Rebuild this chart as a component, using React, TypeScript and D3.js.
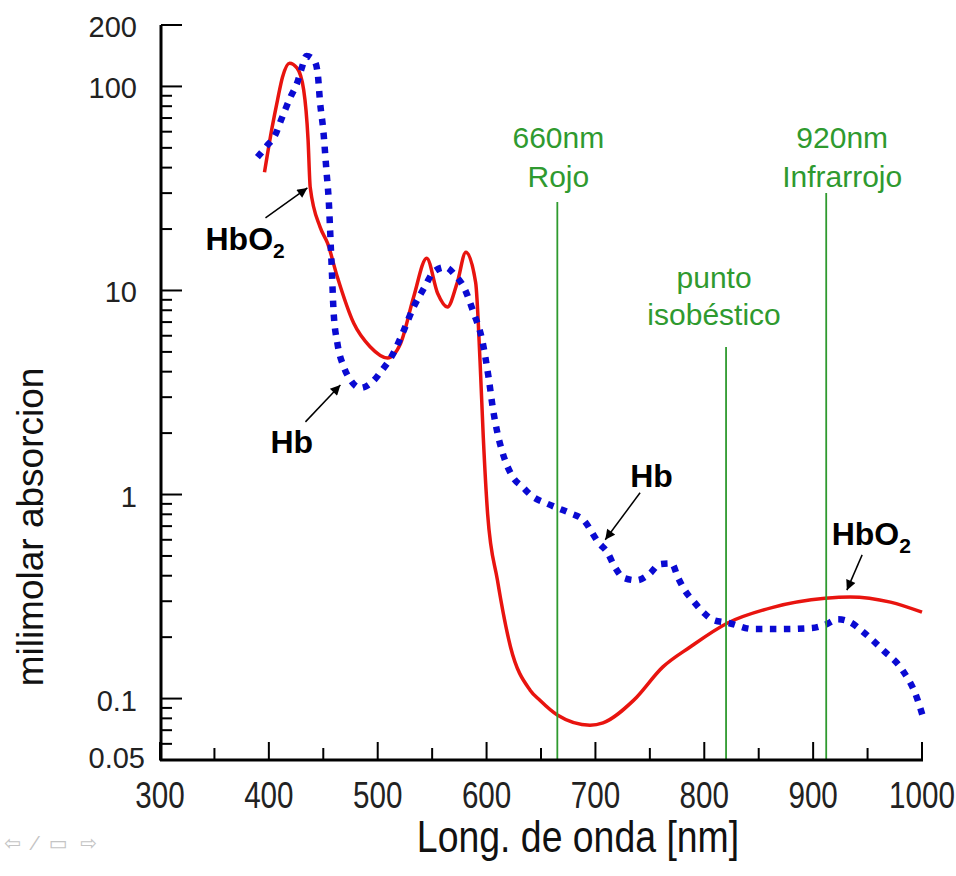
import * as d3 from "d3";

// HbO2 (oxyhemoglobin) absorption
const hbo2Wavelength = [396, 403, 408, 412.5, 419, 426, 432, 436, 438, 447, 454, 463, 478, 493, 509, 521, 533, 545, 555, 564, 573, 581, 590, 594, 597, 601, 610, 622, 640, 649, 665, 695, 707, 735, 762, 787, 821, 863, 911, 934, 971, 1000];
const hbo2Absorption = [38, 63, 86, 111, 130, 123, 96, 55, 32, 20.5, 17, 11.6, 6.9, 5.3, 4.67, 5.5, 9.3, 14.4, 9.7, 8.3, 10.9, 15.4, 10.9, 4.5, 1.9, 0.8, 0.38, 0.179, 0.11, 0.098, 0.083, 0.074, 0.076, 0.098, 0.143, 0.179, 0.234, 0.28, 0.31, 0.315, 0.297, 0.265];

// Hb (deoxyhemoglobin) absorption
const hbWavelength = [389.5, 398, 406, 411, 420, 426, 430, 434.5, 442, 445, 447, 450, 453, 455, 457, 458, 459.5, 463, 469, 475, 484, 495, 504, 512, 523, 533, 544, 551, 562, 571, 579, 588, 596, 602, 606, 610, 614, 624, 633, 642, 654, 665, 677, 689, 703, 711, 718, 726, 738, 750, 759, 770, 776, 782, 790, 799, 808, 822, 845, 872, 899, 911, 923, 934, 946, 964, 982, 995, 1001];
const hbAbsorption = [45, 51, 58, 68, 89, 104, 122, 141, 133, 114, 84, 61, 38, 27.7, 16, 12, 7.8, 5.5, 4.2, 3.64, 3.33, 3.56, 4.07, 4.67, 6.2, 8.3, 10.6, 12.3, 13.0, 11.9, 10.4, 7.8, 5.7, 3.7, 2.6, 2.0, 1.65, 1.22, 1.09, 0.98, 0.91, 0.86, 0.81, 0.75, 0.58, 0.52, 0.44, 0.39, 0.38, 0.41, 0.456, 0.46, 0.39, 0.34, 0.3, 0.265, 0.243, 0.235, 0.219, 0.219, 0.222, 0.23, 0.245, 0.237, 0.212, 0.173, 0.138, 0.102, 0.081];

// vertical reference lines
const markerWavelength = [665, 820, 912];
const markerLabels = [["660nm", "Rojo"], ["punto", "isobéstico"], ["920nm", "Infrarrojo"]];

// axis ticks
const xTickValues = [300, 400, 500, 600, 700, 800, 900, 1000];
const xMinorValues = [350, 450, 550, 650, 750, 850, 950];
const yTickValues = [0.05, 0.1, 1, 10, 100, 200];
const yTickLabels = ["0.05", "0.1", "1", "10", "100", "200"];

// curve labels: text anchor, arrow tail, arrow head (nm, absorption)
const annoText = ["HbO", "Hb", "Hb", "HbO"];
const annoSub = ["2", "", "", "2"];
const annoTextAt = [[341.8, 15.8], [401.4, 1.6], [732, 1.09], [917, 0.566]];
const annoTail = [[396.9, 22.7], [433.6, 2.27], [741, 1.02], [945, 0.506]];
const annoHead = [[435.4, 31.8], [465.7, 3.44], [709, 0.6], [931, 0.34]];

const W = 956;
const H = 876;
const font = "'Liberation Sans', Arial, Helvetica, sans-serif";

export default function App() {
  const x = d3.scaleLinear().domain([300, 1000]).range([160, 922]);
  const y = d3.scaleLog().domain([0.05, 200]).range([760, 25]);

  const line = d3
    .line<[number, number]>()
    .x((d) => x(d[0]))
    .y((d) => y(d[1]))
    .curve(d3.curveMonotoneX);

  const hbo2 = hbo2Wavelength.map((w, i) => [w, hbo2Absorption[i]] as [number, number]);
  const hb = hbWavelength.map((w, i) => [w, hbAbsorption[i]] as [number, number]);

  const yMinor = y.ticks().filter((v) => !yTickValues.some((m) => Math.abs(m - v) / m < 1e-6));

  // label placement for the green lines (baseline of the 2 lines, top of the rule, x shift)
  const markerLayout = [
    { b1: 148, b2: 187, top: 202, dx: 1 },
    { b1: 288, b2: 325, top: 347, dx: -12 },
    { b1: 148, b2: 187, top: 193, dx: 16 },
  ];
  const green = "#2f9a2f";

  return (
    <svg width={W} height={H} style={{ position: "absolute", left: 0, top: 0, background: "#fff" }} fontFamily={font}>
      <defs>
        <marker id="arrowHead" viewBox="0 0 10 10" refX="10" refY="5" markerUnits="userSpaceOnUse" markerWidth="12" markerHeight="10" orient="auto">
          <path d="M0,0 L10,5 L0,10 z" fill="#000" />
        </marker>
      </defs>
      <rect width={W} height={H} fill="#fff" />

      {/* curves */}
      <path d={line(hbo2) || ""} fill="none" stroke="#e8140f" strokeWidth={3.5} strokeLinejoin="round" />
      <path d={line(hb) || ""} fill="none" stroke="#0a0ad2" strokeWidth={6.5} strokeDasharray="6.5 7.5" />

      {/* green markers */}
      {markerWavelength.map((w, i) => {
        const lay = markerLayout[i];
        return (
          <g key={"m" + i}>
            <line x1={x(w)} x2={x(w)} y1={lay.top} y2={760} stroke={green} strokeWidth={1.8} />
            <text x={x(w) + lay.dx} y={lay.b1} fill={green} fontSize={30} textAnchor="middle">{markerLabels[i][0]}</text>
            <text x={x(w) + lay.dx} y={lay.b2} fill={green} fontSize={30} textAnchor="middle">{markerLabels[i][1]}</text>
          </g>
        );
      })}

      {/* annotations */}
      {annoText.map((t, i) => (
        <g key={"a" + i}>
          <line
            x1={x(annoTail[i][0])}
            y1={y(annoTail[i][1])}
            x2={x(annoHead[i][0])}
            y2={y(annoHead[i][1])}
            stroke="#000"
            strokeWidth={1.5}
            markerEnd="url(#arrowHead)"
          />
          <text x={x(annoTextAt[i][0])} y={y(annoTextAt[i][1])} fontSize={32} fontWeight="bold" fill="#000">
            {t}
            {annoSub[i] && (
              <tspan fontSize={21} dy={8}>{annoSub[i]}</tspan>
            )}
          </text>
        </g>
      ))}

      {/* y axis */}
      <line x1={161} x2={161} y1={25} y2={761} stroke="#000" strokeWidth={3} />
      {yTickValues.map((v, i) => (
        <g key={"yt" + i}>
          {v !== 0.05 && <line x1={161} x2={182} y1={y(v)} y2={y(v)} stroke="#000" strokeWidth={2} />}
          <text x={v === 0.05 ? 145 : 137} y={y(v) + (v === 0.05 ? 8 : 12)} fontSize={29} textAnchor="end" fill="#222">{yTickLabels[i]}</text>
        </g>
      ))}
      {yMinor.map((v, i) => (
        <line key={"ym" + i} x1={161} x2={172} y1={y(v)} y2={y(v)} stroke="#000" strokeWidth={2} />
      ))}

      {/* x axis */}
      <line x1={160} x2={923} y1={760} y2={760} stroke="#000" strokeWidth={3} />
      {xTickValues.map((v) => (
        <g key={"xt" + v}>
          <line x1={x(v)} x2={x(v)} y1={760} y2={742} stroke="#000" strokeWidth={2} />
          <text transform={`translate(${x(v)},808) scale(0.8,1)`} fontSize={37} textAnchor="middle" fill="#222">{v}</text>
        </g>
      ))}
      {xMinorValues.map((v) => (
        <line key={"xm" + v} x1={x(v)} x2={x(v)} y1={760} y2={748} stroke="#000" strokeWidth={2} />
      ))}

      {/* axis titles */}
      <text transform="translate(578,852) scale(0.85,1)" fontSize={44} textAnchor="middle" fill="#111">Long. de onda [nm]</text>
      <text transform="translate(43,527) rotate(-90)" fontSize={37} textAnchor="middle" fill="#111">milimolar absorcion</text>

      {/* slide nav icons */}
      <text x={4} y={850} fontSize={20} fill="#c4c4c4" fontFamily="'DejaVu Sans', sans-serif" letterSpacing={3}>⇦ ⁄ ▭ ⇨</text>
    </svg>
  );
}
